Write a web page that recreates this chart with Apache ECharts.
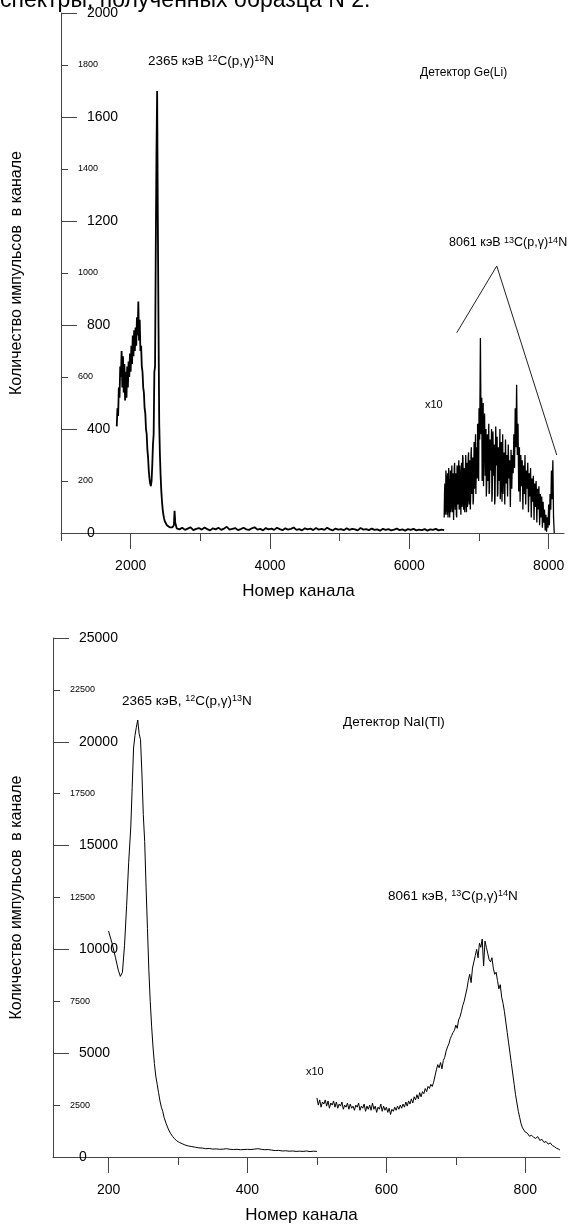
<!DOCTYPE html>
<html>
<head>
<meta charset="utf-8">
<script src="https://cdn.jsdelivr.net/npm/echarts@6/dist/echarts.min.js"></script>
<style>
html,body{margin:0;padding:0;background:#fff;}
#chart{width:582px;height:1225px;}
</style>
</head>
<body>
<div id="chart"></div>
<script>
// ---- Ge(Li) detector: [channel, counts] ----
const geMain = [
[1800,410],[1810,480],[1820,450],[1830,560],[1840,520],[1850,640],[1860,600],[1870,700],[1880,560],[1890,680],
[1900,540],[1910,650],[1920,510],[1930,620],[1940,520],[1950,640],[1960,560],[1970,660],[1980,600],[1990,690],
[2000,620],[2010,720],[2020,650],[2030,760],[2040,680],[2050,780],[2060,700],[2070,790],[2080,720],[2090,830],
[2100,760],[2110,890],[2120,740],[2130,820],[2140,700],[2150,720],[2160,640],[2170,620],[2180,560],[2190,540],
[2200,480],[2210,460],[2220,400],[2230,380],[2240,320],[2250,290],[2260,240],[2270,210],[2280,190],[2290,180],
[2300,200],[2310,260],[2320,340],[2330,380],[2340,620],[2350,640],[2360,1080],[2370,1450],[2380,1700],[2390,1200],
[2400,780],[2410,420],[2420,300],[2430,220],[2440,160],[2450,120],[2460,90],[2470,70],[2480,55],[2490,45],
[2500,40],[2520,30],[2540,25],[2560,22],[2580,20],[2600,22],[2620,30],[2630,85],[2640,40],[2660,18],
[2700,14],[2740,20],[2780,12],[2820,17],[2860,22],[2900,11],[2940,16],[2980,19],[3020,13],[3060,21],
[3100,15],[3140,10],[3180,18],[3220,14],[3260,20],[3300,12],[3340,17],[3380,24],[3420,13],[3460,16],
[3500,19],[3540,11],[3580,15],[3620,20],[3660,14],[3700,12],[3740,18],[3780,22],[3820,13],[3860,16],
[3900,10],[3940,19],[3980,14],[4020,17],[4060,12],[4100,20],[4140,15],[4180,11],[4220,18],[4260,13],
[4300,16],[4340,21],[4380,12],[4420,15],[4460,10],[4500,18],[4540,14],[4580,17],[4620,11],[4660,19],
[4700,13],[4740,16],[4780,12],[4820,20],[4860,14],[4900,10],[4940,17],[4980,13],[5020,15],[5060,11],
[5100,18],[5140,12],[5180,16],[5220,14],[5260,10],[5300,19],[5340,13],[5380,15],[5420,11],[5460,17],
[5500,12],[5540,14],[5580,9],[5620,16],[5660,12],[5700,15],[5740,10],[5780,13],[5820,17],[5860,11],
[5900,14],[5940,9],[5980,15],[6020,12],[6060,16],[6100,10],[6140,13],[6180,11],[6220,15],[6260,9],
[6300,14],[6340,12],[6380,16],[6420,10],[6460,13],[6500,11]
];
const geX10 = [
[6500,60],[6505,150],[6510,190],[6515,70],[6520,90],[6525,240],[6530,210],[6535,110],[6540,70],[6545,200],
[6550,230],[6555,60],[6560,110],[6565,250],[6570,180],[6575,90],[6580,60],[6585,170],[6590,240],[6595,80],
[6600,120],[6605,210],[6610,260],[6615,100],[6620,80],[6625,230],[6630,200],[6635,50],[6640,130],[6645,250],
[6650,270],[6655,120],[6660,90],[6665,200],[6670,230],[6675,70],[6680,60],[6685,260],[6690,250],[6695,110],
[6700,140],[6705,230],[6710,280],[6715,90],[6720,100],[6725,260],[6730,220],[6735,120],[6740,70],[6745,210],
[6750,270],[6755,100],[6760,150],[6765,300],[6770,290],[6775,110],[6780,90],[6785,250],[6790,240],[6795,80],
[6800,130],[6805,240],[6810,300],[6815,120],[6820,80],[6825,270],[6830,260],[6835,100],[6840,160],[6845,290],
[6850,310],[6855,130],[6860,110],[6865,240],[6870,280],[6875,90],[6880,140],[6885,300],[6890,330],[6895,150],
[6900,180],[6910,290],[6915,110],[6920,130],[6930,350],[6935,170],[6940,200],[6950,380],[6955,150],[6960,240],
[6970,330],[6975,210],[6980,420],[6990,300],[6995,200],
[7000,480],[7010,360],[7020,750],[7030,380],[7040,520],[7045,200],[7050,260],[7060,500],[7065,180],[7070,300],
[7080,460],[7090,220],[7100,400],[7105,140],[7110,180],[7120,380],[7130,200],[7140,420],[7145,150],[7150,160],
[7160,360],[7170,240],[7180,400],[7185,120],[7190,150],[7200,390],[7210,220],[7220,340],[7225,110],[7230,130],
[7240,410],[7250,260],[7260,370],[7265,140],[7270,150],[7280,330],[7290,200],[7300,400],[7305,130],[7310,170],
[7320,350],[7330,120],[7340,380],[7345,150],[7350,230],[7360,310],[7370,110],[7380,360],[7390,190],[7400,300],
[7410,140],[7420,340],[7430,210],[7440,280],[7450,100],[7460,320],[7470,170],[7480,300],[7490,230],
[7500,380],[7510,250],[7520,480],[7530,330],[7540,570],[7550,300],[7560,420],[7570,160],[7580,330],[7590,120],
[7600,300],[7610,180],[7620,280],[7630,90],[7640,260],[7650,150],[7660,300],[7670,110],[7680,240],[7690,170],
[7700,270],[7710,80],[7720,230],[7730,140],[7740,250],[7750,60],[7760,210],[7770,120],[7780,220],[7790,50],
[7800,190],[7810,100],[7820,200],[7830,40],[7840,170],[7850,90],[7860,180],[7870,30],[7880,150],[7890,60],
[7900,140],[7910,20],[7920,120],[7930,40],[7940,90],[7950,10],[7960,70],[7970,5],[7980,60],[7990,20],
[8000,110],[8010,30],[8020,150],[8030,90],[8040,240],[8050,130],[8060,280],[8070,60],[8080,0]
];
// annotation pointer lines for the 8061 keV label (data coordinates)
const gePointer = [[6680,770],[7255,1027],[8116,300]];

// ---- NaI(Tl) detector: [channel, counts] ----
const naiMain = [
[200,10880],[205,10300],[210,9600],[214,9000],[217,8700],[220,8900],[223,10200],[226,12100],[229,14200],[232,15900],
[234,17800],[236,19700],[238,20300],[240,20700],[242,21050],[244,20400],[246,20100],[248,18500],[250,16500],[252,15200],
[254,13000],[256,11000],[258,9000],[260,7500],[262,6300],[264,5300],[266,4500],[268,3900],[270,3500],[272,3100],
[274,2700],[276,2400],[278,2200],[280,1900],[283,1600],[286,1350],[289,1150],[292,1000],[295,880],[298,780],
[302,700],[306,640],[310,580],[315,530],[320,500],[325,470],[330,440],[335,430],[340,400],[345,410],
[350,380],[355,390],[360,370],[365,380],[370,400],[375,370],[380,360],[385,370],[390,350],[395,360],
[400,370],[405,360],[410,380],[415,400],[420,370],[425,350],[430,360],[435,330],[440,310],[445,320],
[450,290],[455,300],[460,280],[465,290],[470,270],[475,280],[480,270],[485,290],[490,260],[495,280],[500,270]
];
const naiX10 = [
[500,2850],[502,2500],[504,2750],[506,2400],[508,2650],[510,2550],[512,2750],[514,2450],[516,2700],[518,2350],
[520,2600],[522,2500],[524,2700],[526,2400],[528,2650],[530,2350],[532,2550],[534,2450],[536,2650],[538,2300],
[540,2500],[542,2400],[544,2600],[546,2300],[548,2550],[550,2350],[552,2450],[554,2250],[556,2500],[558,2400],
[560,2600],[562,2250],[564,2450],[566,2350],[568,2550],[570,2200],[572,2450],[574,2300],[576,2500],[578,2250],
[580,2600],[582,2300],[584,2450],[586,2150],[588,2400],[590,2300],[592,2550],[594,2200],[596,2450],[598,2250],
[600,2400],[602,2150],[604,2350],[606,2050],[608,2300],[610,2200],[612,2400],[614,2250],[616,2450],[618,2300],
[620,2500],[622,2350],[624,2550],[626,2400],[628,2650],[630,2450],[632,2700],[634,2550],[636,2800],[638,2600],
[640,2900],[642,2750],[644,3000],[646,2800],[648,3100],[650,2900],[652,3150],[654,3050],[656,3300],[658,3150],
[660,3400],[662,3300],[664,3500],[666,3400],[668,3600],[670,3550],[672,4200],[674,4450],[676,4300],[678,4550],
[680,4250],[682,4650],[684,4800],[686,5100],[688,5300],[690,5450],[692,5700],[694,5850],[696,6000],[698,6100],
[700,6350],[702,6200],[704,6600],[706,6750],[708,7000],[710,7300],[712,7500],[714,7800],[716,8100],[718,8500],
[720,8800],[722,8400],[724,9100],[726,9400],[728,9700],[730,10000],[732,9600],[734,10300],[736,10100],[738,10500],
[740,9200],[742,10400],[744,10100],[746,9800],[748,9500],[750,9400],[752,9600],[754,9100],[756,8800],[758,8900],
[760,8500],[762,8100],[764,8300],[766,7700],[768,7400],[770,7000],[772,6500],[774,6000],[776,5500],[778,5000],
[780,4500],[782,4000],[784,3500],[786,3000],[788,2600],[790,2200],[792,1900],[794,1600],[796,1400],[798,1300],
[800,1200],[803,1150],[806,1000],[809,1050],[812,950],[815,900],[818,980],[821,800],[824,850],[827,700],
[830,750],[833,620],[836,680],[839,550],[842,500],[845,420],[848,380],[850,330]
];

// ---- tick positions ----
const geMajorX = [2000,4000,6000,8000];
const geMinorX = [1000,3000,5000,7000];
const naiMajorX = [200,400,600,800];
const naiMinorX = [300,500,700];

const FONT = '"Liberation Sans", Arial, sans-serif';
const AX = '#444';
const plain = function (v) { return String(v); };

function yAxes(grid, max, big, small, nameGap) {
  return [
    {
      gridIndex: grid, type: 'value', position: 'left', min: 0, max: max, interval: big,
      axisLine: {show: true, lineStyle: {color: AX, width: 1}},
      axisTick: {show: true, inside: true, length: 16, lineStyle: {color: AX}},
      axisLabel: {inside: true, margin: 26, fontSize: 14, color: '#000', fontFamily: FONT, formatter: plain},
      splitLine: {show: false},
      name: 'Количество импульсов  в канале', nameLocation: 'middle', nameRotate: 90, nameGap: nameGap,
      nameTextStyle: {fontSize: 16, color: '#000', fontFamily: FONT}
    },
    {
      gridIndex: grid, type: 'value', position: 'left', min: 0, max: max, interval: small,
      axisLine: {show: false},
      axisTick: {show: true, inside: true, length: 7, lineStyle: {color: AX}},
      axisLabel: {inside: true, margin: 17, fontSize: 9, color: '#000', fontFamily: FONT,
        formatter: function (v) { return (v % big === 0) ? '' : String(v); }},
      splitLine: {show: false}
    }
  ];
}

function xAxes(grid, min, max, major, minor, namePad) {
  return [
    {
      gridIndex: grid, type: 'value', position: 'bottom', min: min, max: max,
      axisLine: {show: true, onZero: false, lineStyle: {color: AX, width: 1}},
      axisTick: {show: true, inside: false, length: 16, customValues: major, lineStyle: {color: AX}},
      axisLabel: {show: true, margin: 26, fontSize: 14, color: '#000', fontFamily: FONT, customValues: major, formatter: plain},
      splitLine: {show: false},
      name: 'Номер канала', nameLocation: 'middle', nameGap: 50,
      nameTextStyle: {fontSize: 17, color: '#000', fontFamily: FONT, padding: [0, namePad, 0, 0]}
    },
    {
      gridIndex: grid, type: 'value', position: 'bottom', min: min, max: max,
      axisLine: {show: false, onZero: false},
      axisTick: {show: true, inside: false, length: 8, customValues: minor, lineStyle: {color: AX}},
      axisLabel: {show: false},
      splitLine: {show: false}
    }
  ];
}

function txt(x, y, text, size, rich) {
  return {
    type: 'text', x: x, y: y, silent: true,
    style: {
      text: text, fontSize: size, fontFamily: FONT, fill: '#000',
      align: 'left', verticalAlign: 'middle',
      rich: rich || {}
    }
  };
}
const supRich = {s: {fontSize: 9, fontFamily: FONT, fill: '#000', verticalAlign: 'top', lineHeight: 9}};

const chart = echarts.init(document.getElementById('chart'), null, {renderer: 'canvas'});
chart.setOption({
  animation: false,
  backgroundColor: '#fff',
  grid: [
    {left: 61, top: 13, width: 503, height: 520},
    {left: 53, top: 638, width: 507, height: 520}
  ],
  xAxis: [].concat(xAxes(0, 1000, 8220, geMajorX, geMinorX, 28), xAxes(1, 120, 850, naiMajorX, naiMinorX, 10)),
  yAxis: [].concat(yAxes(0, 2000, 400, 200, 36), yAxes(1, 25000, 5000, 2500, 28)),
  series: [
    {type: 'line', xAxisIndex: 0, yAxisIndex: 0, data: geMain, showSymbol: false, silent: true,
     lineStyle: {color: '#000', width: 1.8}},
    {type: 'line', xAxisIndex: 0, yAxisIndex: 0, data: geX10, showSymbol: false, silent: true,
     lineStyle: {color: '#000', width: 1.3}},
    {type: 'line', xAxisIndex: 0, yAxisIndex: 0, data: gePointer, showSymbol: false, silent: true,
     lineStyle: {color: '#222', width: 1}},
    {type: 'line', xAxisIndex: 2, yAxisIndex: 2, data: naiMain, showSymbol: false, silent: true,
     lineStyle: {color: '#000', width: 1}},
    {type: 'line', xAxisIndex: 2, yAxisIndex: 2, data: naiX10, showSymbol: false, silent: true,
     lineStyle: {color: '#000', width: 1}}
  ],
  graphic: [
    {type: 'text', x: 0, y: 12, silent: true,
     style: {text: 'спектры, полученных образца N 2.', fontSize: 23, fontFamily: FONT, fill: '#000',
             align: 'left', verticalAlign: 'bottom'}},
    txt(148, 61, '2365 кэВ {s|12}C(p,γ){s|13}N', 13.5, supRich),
    txt(420, 73, 'Детектор Ge(Li)', 12),
    txt(449, 243, '8061 кэВ {s|13}C(p,γ){s|14}N', 12.5, supRich),
    txt(425, 405, 'x10', 11),
    txt(122, 701, '2365 кэВ, {s|12}C(p,γ){s|13}N', 13.5, supRich),
    txt(343, 722, 'Детектор NaI(Tl)', 13.5),
    txt(388, 896, '8061 кэВ, {s|13}C(p,γ){s|14}N', 13.5, supRich),
    txt(306, 1072, 'x10', 11)
  ]
});
</script>
</body>
</html>
